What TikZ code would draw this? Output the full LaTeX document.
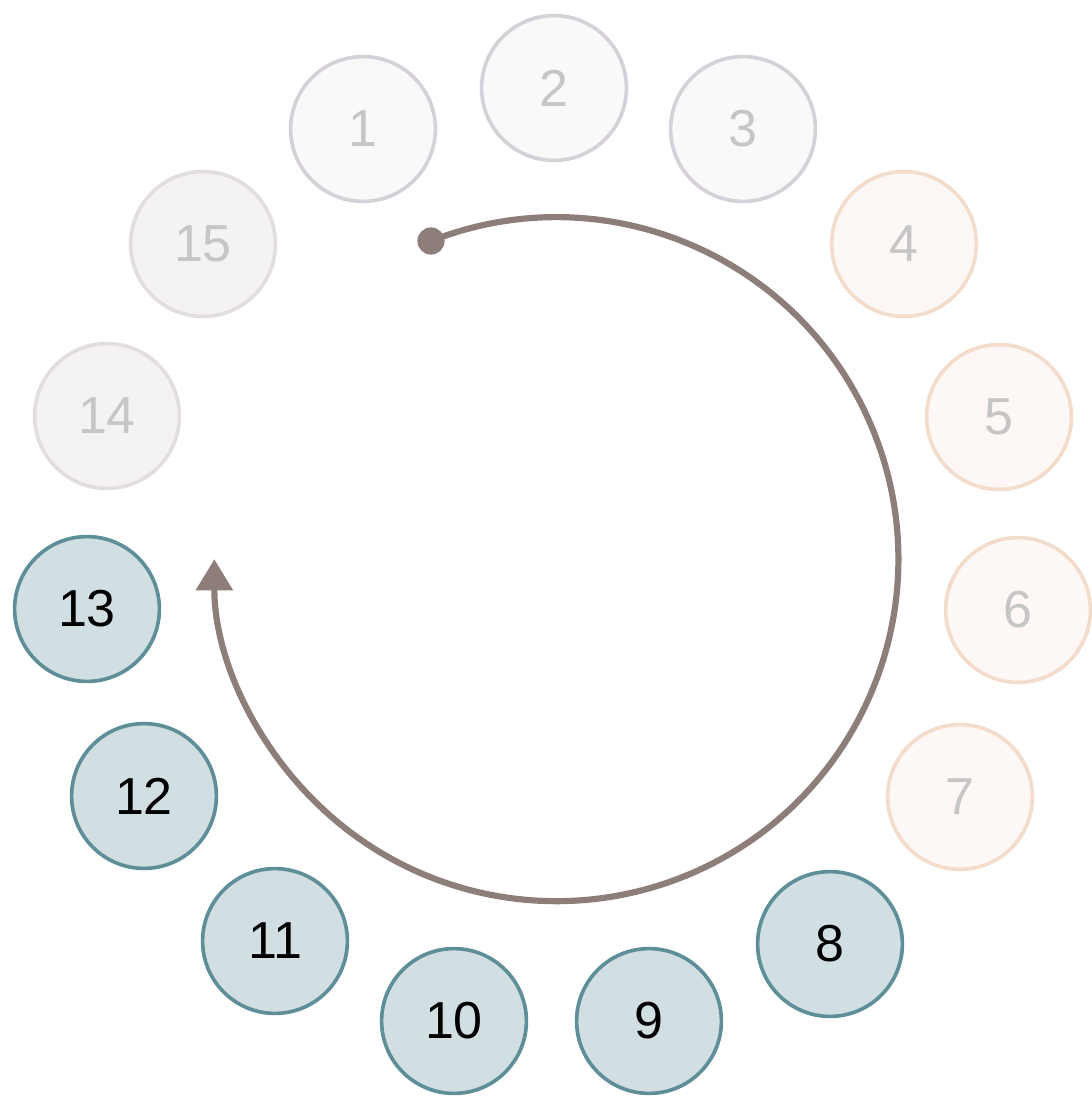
\documentclass[tikz,border=0pt]{standalone}
\usepackage{fontspec}
\setmainfont{Liberation Sans}
\usetikzlibrary{arrows.meta}
\definecolor{doneline}{HTML}{D6D0D8}
\definecolor{donefill}{HTML}{F9F9F9}
\definecolor{nextline}{HTML}{F3DCCB}
\definecolor{nextfill}{HTML}{FDF8F5}
\definecolor{oldline}{HTML}{E3DEDE}
\definecolor{oldfill}{HTML}{F5F2F2}
\definecolor{liveline}{HTML}{5E8F99}
\definecolor{livefill}{HTML}{D2DFE2}
\definecolor{faded}{HTML}{C6C6C6}
\definecolor{trailc}{HTML}{8D7E79}

\begin{document}
\begin{tikzpicture}[
    slot/.style={circle, inner sep=0pt, minimum size=3.62cm, line width=2.6pt, font=\fontsize{37}{40}\selectfont},
    gone/.style={slot, draw=doneline, fill=donefill, text=faded},
    next/.style={slot, draw=nextline, fill=nextfill, text=faded},
    old/.style={slot, draw=oldline, fill=oldfill, text=faded},
    live/.style={slot, draw=liveline, fill=livefill, text=black},
    trail/.style={draw=trailc, line width=4.4pt, -{Triangle[length=0.78cm, width=0.9cm]}}
  ]
    \useasboundingbox (0,0) rectangle (27.275,-27.425);

    \node[gone] (n1) at (9.075,-3.225) {1};
    \node[gone] (n2) at (13.85,-2.2) {2};
    \node[gone] (n3) at (18.575,-3.225) {3};

    \node[next] (n4) at (22.6,-6.1) {4};
    \node[next] (n5) at (24.975,-10.425) {5};
    \node[next] (n6) at (25.45,-15.25) {6};
    \node[next] (n7) at (24.0,-19.925) {7};

    \node[live] (n8) at (20.75,-23.6) {8};
    \node[live] (n9) at (16.225,-25.525) {9};
    \node[live] (n10) at (11.35,-25.525) {10};
    \node[live] (n11) at (6.875,-23.525) {11};
    \node[live] (n12) at (3.6,-19.9) {12};
    \node[live] (n13) at (2.175,-15.225) {13};

    \node[old] (n14) at (2.675,-10.4) {14};
    \node[old] (n15) at (5.075,-6.1) {15};

    % rotation path
    \node[circle, fill=trailc, inner sep=0pt, minimum size=0.68cm] (start) at (10.775,-6.025) {};
    \draw[trail] (start.center) arc[start angle=111.5, end angle=-180, radius=8.55cm];
  \end{tikzpicture}
\end{document}
